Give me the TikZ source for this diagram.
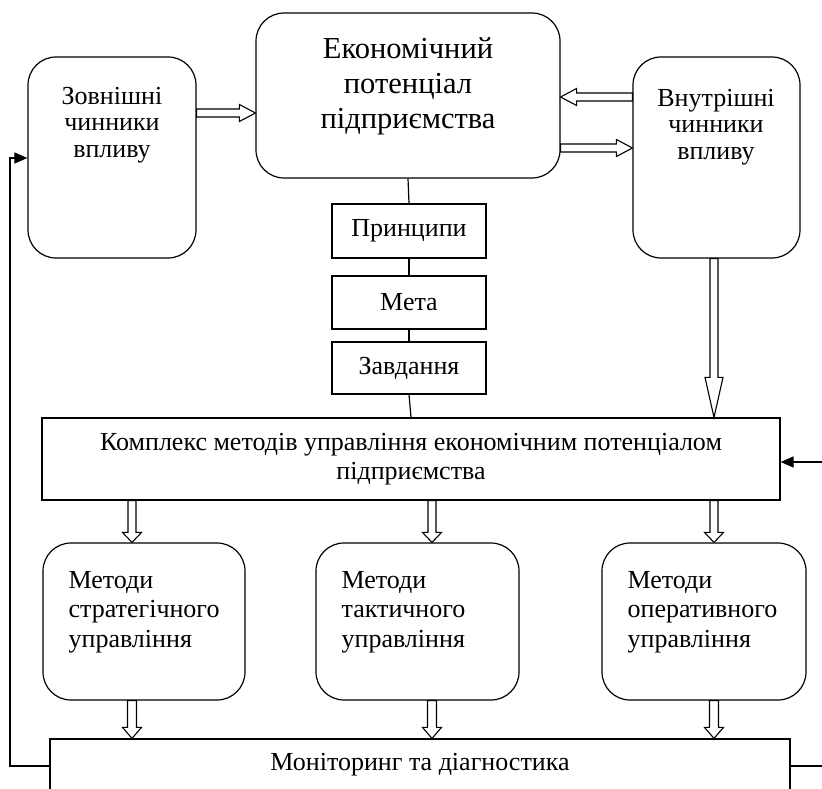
\documentclass[tikz,border=0pt]{standalone}
\usepackage{fontspec}
\setmainfont{Liberation Serif}
\usetikzlibrary{calc,arrows.meta}
\newcommand{\harr}[5]{%
  \coordinate (ha) at #1;
  \coordinate (hb) at #2;
  \coordinate (hc) at ($(hb)!#5!(ha)$);
  \draw[hollow] ($(ha)!#3!90:(hb)$) -- ($(hc)!#3!90:(hb)$) -- ($(hc)!#4!90:(hb)$) -- (hb)
     -- ($(hc)!#4!-90:(hb)$) -- ($(hc)!#3!-90:(hb)$) -- ($(ha)!#3!-90:(hb)$) -- cycle;
}
\begin{document}
\begin{tikzpicture}[x=1pt,y=-1pt, line width=1.2pt,
  rbox/.style={draw, rounded corners=28pt, inner sep=0pt},
  sbox/.style={draw, inner sep=0pt},
  txt/.style={font=\fontsize{26}{29.5}\selectfont, align=center, inner sep=0pt},
  sidetxt/.style={txt, font=\fontsize{26}{26.5}\selectfont},
  hollow/.style={draw, fill=white, line width=1.1pt, line join=miter},
  fb/.style={-{Triangle[length=13pt,width=11pt]}}]
\useasboundingbox (0,0) rectangle (822,789);
\clip (0,0) rectangle (822,789);
% helper levels
\coordinate (y97) at (0,97);
\coordinate (y113) at (0,113);
\coordinate (y148) at (0,148);
\coordinate (y766) at (0,766);
\coordinate (x714) at (714,0);
\coordinate (x132) at (132,0);
\coordinate (x432) at (432,0);
% boxes
\node[rbox, minimum width=304pt, minimum height=165pt] (E) at (408,95.5) {};
\node[txt, font=\fontsize{30.5}{35}\selectfont] (Et) at (408,86) {Економічний\\потенціал\\підприємства};
\node[rbox, minimum width=168pt, minimum height=201pt] (Z) at (112,157.5) {};
\node[sidetxt] (Zt) at (112,125) {Зовнішні\\чинники\\впливу};
\node[rbox, minimum width=167pt, minimum height=201pt] (V) at (716.5,157.5) {};
\node[sidetxt] (Vt) at (716,127) {Внутрішні\\чинники\\впливу};
\node[sbox, txt, minimum width=154pt, minimum height=54pt] (P) at (409,231) {Принципи};
\node[sbox, txt, minimum width=154pt, minimum height=53pt] (M) at (409,302.5) {Мета};
\node[sbox, txt, minimum width=154pt, minimum height=52pt] (T) at (409,368) {Завдання};
\node[sbox, txt, minimum width=738pt, minimum height=82pt] (K) at (411,459) {Комплекс методів управління економічним потенціалом\\підприємства};
\node[rbox, minimum width=202pt, minimum height=157pt] (S1) at (144,621.5) {};
\node[txt, align=left, anchor=west] (S1t) at (68,612) {Методи\\стратегічного\\управління};
\node[rbox, minimum width=203pt, minimum height=157pt] (S2) at (417.5,621.5) {};
\node[txt, align=left, anchor=west] (S2t) at (341,612) {Методи\\тактичного\\управління};
\node[rbox, minimum width=204pt, minimum height=157pt] (S3) at (704,621.5) {};
\node[txt, align=left, anchor=west] (S3t) at (627,612) {Методи\\оперативного\\управління};
\node[sbox, minimum width=740pt, minimum height=80pt] (Mon) at (420,779) {};
\node[txt] (Mont) at (420,765) {Моніторинг та діагностика};
% plain connectors
\draw (E.south) -- (P.north);
\draw (P) -- (M);
\draw (M) -- (T);
\draw (T.south) -- (K.north);
% hollow arrows
\harr{(Z.east |- y113)}{(E.west |- y113)}{4pt}{8.5pt}{16pt}
\harr{(V.west |- y97)}{(E.east |- y97)}{4pt}{8.5pt}{16pt}
\harr{(E.east |- y148)}{(V.west |- y148)}{4pt}{8.5pt}{16pt}
\harr{(V.south -| x714)}{(K.north -| x714)}{4pt}{9pt}{40pt}
\harr{(K.south -| x132)}{(S1.north -| x132)}{4pt}{9.5pt}{10pt}
\harr{(K.south -| x432)}{(S2.north -| x432)}{4pt}{9.5pt}{10pt}
\harr{(K.south -| x714)}{(S3.north -| x714)}{4pt}{9.5pt}{10pt}
\harr{(S1.south -| x132)}{(Mon.north -| x132)}{4.5pt}{9.5pt}{11pt}
\harr{(S2.south -| x432)}{(Mon.north -| x432)}{4.5pt}{9.5pt}{11pt}
\harr{(S3.south -| x714)}{(Mon.north -| x714)}{4.5pt}{9.5pt}{11pt}
% feedback loops
\coordinate (fbL) at (10,158);
\draw[fb] (Mon.west |- y766) -| (fbL) -- (Z.west |- fbL);
\coordinate (fbR) at (835,462);
\draw[fb] (Mon.east |- y766) -| (fbR) -- (K.east |- fbR);
\end{tikzpicture}
\end{document}
